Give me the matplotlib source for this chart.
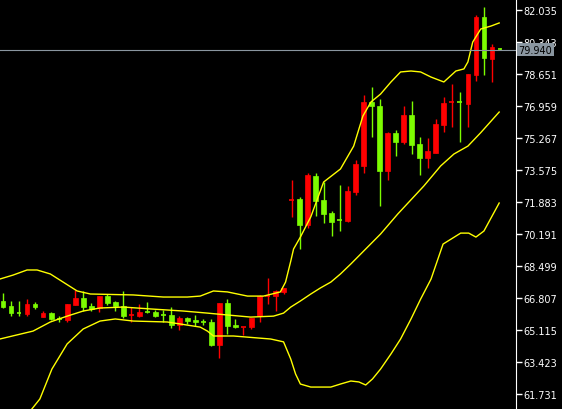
import matplotlib
matplotlib.use("Agg")
import matplotlib.pyplot as plt
from matplotlib.patches import Rectangle
from matplotlib.transforms import blended_transform_factory

# Candles (red = up, green = down, as in the terminal colour scheme)
opens = [66.65, 66.38, 66.02, 65.96, 66.49, 65.80, 66.01, 65.70, 65.64, 66.44,
         66.81, 66.38, 66.28, 66.91, 66.60, 66.38, 65.91, 65.86, 66.07, 66.07,
         65.91, 65.91, 65.38, 65.75, 65.64, 65.54, 65.54, 64.32, 66.54, 65.38,
         65.27, 65.27, 65.86, 66.91, 66.91, 67.13, 71.96, 72.04, 70.67, 73.26,
         71.99, 71.30, 70.94, 70.88, 72.41, 73.79, 77.17, 76.96, 73.52, 75.53,
         75.06, 76.48, 74.95, 74.21, 74.47, 75.96, 77.15, 77.19, 77.07, 78.60,
         81.67, 79.45, 79.97]
highs = [67.07, 66.65, 66.65, 66.75, 66.60, 66.12, 66.07, 65.86, 66.49, 67.23,
         67.18, 66.54, 66.91, 67.02, 66.65, 67.18, 66.33, 66.49, 66.60, 66.17,
         66.17, 66.33, 65.86, 65.80, 65.91, 65.70, 65.70, 66.54, 66.75, 65.70,
         65.28, 65.75, 66.97, 67.87, 67.23, 67.34, 73.05, 72.15, 73.42, 73.42,
         72.94, 71.41, 72.78, 72.73, 74.10, 77.54, 77.96, 77.33, 75.58, 75.69,
         76.96, 77.22, 75.32, 75.27, 76.27, 77.44, 78.12, 77.70, 78.65, 81.77,
         82.19, 80.24, 80.05]
lows = [66.28, 65.86, 65.86, 65.86, 66.23, 65.80, 65.64, 65.54, 65.54, 66.44,
        66.12, 66.12, 66.07, 66.44, 66.12, 65.75, 65.54, 65.80, 66.01, 65.80,
        65.54, 65.22, 65.12, 65.43, 65.33, 65.38, 64.27, 63.64, 64.90, 65.22,
        64.85, 65.17, 65.54, 66.49, 66.12, 67.02, 71.09, 69.40, 70.51, 71.14,
        70.77, 70.09, 70.35, 70.83, 72.25, 73.42, 75.32, 71.67, 73.05, 74.32,
        74.95, 74.42, 73.31, 73.68, 74.47, 75.58, 75.85, 75.06, 75.85, 78.28,
        78.60, 78.23, 79.91]
closes = [66.33, 66.01, 66.01, 66.49, 66.33, 66.01, 65.70, 65.68, 66.49, 66.81,
          66.33, 66.23, 66.91, 66.54, 66.38, 65.86, 65.93, 66.07, 66.05, 65.86,
          65.90, 65.38, 65.75, 65.59, 65.54, 65.53, 64.32, 66.54, 65.33, 65.27,
          65.28, 65.75, 66.91, 66.92, 67.18, 67.34, 71.99, 70.67, 73.31, 71.94,
          71.25, 70.83, 70.93, 72.47, 73.89, 77.17, 76.96, 73.52, 75.53, 75.06,
          76.48, 74.90, 74.21, 74.58, 76.01, 77.12, 77.17, 77.17, 78.65, 81.67,
          79.50, 80.08, 79.94]

# Bollinger bands (position in candle units, price)
upper_pos = [-0.4, 1.25, 3, 4.25, 5.9, 7.5, 9.25, 10.9, 16.25, 20, 23, 24.6, 26.25,
             28, 30.5, 32.5, 34.6, 35.25, 35.9, 36.25, 37.1, 38.4, 40, 42.1, 43.75,
             44.9, 45.9, 47.1, 48.4, 49.6, 50.9, 52.1, 53.4, 55, 56.5, 57.5, 58,
             58.6, 59.6, 60.9, 61.9]
upper_val = [67.81, 68.02, 68.29, 68.29, 68.08, 67.65, 67.18, 67.02, 66.97, 66.86,
             66.86, 66.91, 67.18, 67.13, 66.91, 66.91, 67.13, 67.65, 68.76, 69.40,
             70.03, 71.10, 72.94, 73.63, 74.84, 76.43, 77.17, 77.59, 78.23, 78.76,
             78.81, 78.76, 78.49, 78.23, 78.81, 78.92, 79.29, 80.34, 81.03, 81.19,
             81.35]
mid_pos = [-0.4, 3.75, 5.9, 8, 10, 12.1, 15, 18.4, 22.5, 25.5, 28, 30.9, 33.75, 35,
           35.9, 37.1, 38.4, 39.6, 40.9, 42.1, 43.4, 45.25, 47.1, 49.25, 52.5, 54.6,
           56.25, 58, 59.6, 61.9]
mid_val = [64.64, 65.06, 65.54, 65.85, 66.12, 66.28, 66.33, 66.23, 66.12, 66.01,
           65.91, 65.80, 65.85, 66.01, 66.33, 66.65, 67.02, 67.34, 67.65, 68.08,
           68.61, 69.40, 70.19, 71.25, 72.73, 73.79, 74.42, 74.84, 75.55, 76.64]
lower_pos = [2.1, 4.6, 6.1, 8, 10, 12.1, 14, 16.25, 20.5, 24.6, 25.5, 26.25, 28.75,
             33.4, 35, 35.9, 36.5, 37.1, 38.4, 40.9, 42.1, 43.4, 44.4, 45.25, 46.1,
             47.1, 48.4, 49.6, 50.9, 52.1, 53.4, 54.9, 57.1, 58.1, 59, 60, 61.9]
lower_val = [60.15, 61.47, 63.05, 64.38, 65.17, 65.59, 65.70, 65.59, 65.54, 65.27,
             65.06, 64.80, 64.80, 64.64, 64.49, 63.58, 62.79, 62.26, 62.10, 62.10,
             62.26, 62.42, 62.37, 62.21, 62.53, 63.05, 63.85, 64.64, 65.70, 66.75,
             67.81, 69.66, 70.24, 70.24, 70.03, 70.35, 71.83]

y_ticks = [82.035, 80.343, 78.651, 76.959, 75.267, 73.575, 71.883, 70.191,
           68.499, 66.807, 65.115, 63.423, 61.731]
last_price = 79.940

UP = "#ff0000"
DOWN = "#7cfc00"

fig = plt.figure(figsize=(5.62, 4.10), dpi=100, facecolor="black")
ax = fig.add_axes([0, 0, 516 / 562, 1], facecolor="black")

for i, (o, h, l, c) in enumerate(zip(opens, highs, lows, closes)):
    col = UP if c >= o else DOWN
    ax.vlines(i, l, h, color=col, linewidth=1)
    lo, hi = min(o, c), max(o, c)
    if hi - lo < 0.06:
        ax.hlines((o + c) / 2, i - 0.3, i + 0.3, color=col, linewidth=1.2)
    else:
        ax.add_patch(Rectangle((i - 0.3, lo), 0.6, hi - lo, facecolor=col,
                               edgecolor=col, linewidth=0.5))

for pos, val in [(upper_pos, upper_val), (mid_pos, mid_val), (lower_pos, lower_val)]:
    ax.plot(pos, val, color="#ffff00", linewidth=1)

ax.axhline(last_price, color="#8a96a0", linewidth=0.8)

ax.set_xlim(-0.375, 64)
ax.set_ylim(60.94, 82.617)
ax.set_xticks([])
ax.yaxis.tick_right()
ax.set_yticks(y_ticks)
ax.set_yticklabels([f"{t:.3f}" for t in y_ticks])
ax.tick_params(axis="y", colors="white", labelsize=7, length=4, width=1, pad=1)
for name, sp in ax.spines.items():
    sp.set_visible(name == "right")
ax.spines["right"].set_color("white")

trans = blended_transform_factory(ax.transAxes, ax.transData)
ax.text(1.005, last_price, f"{last_price:.3f}", transform=trans, color="black",
        fontsize=7, va="center", ha="left", clip_on=False,
        bbox=dict(boxstyle="square,pad=0.15", facecolor="#8a96a0", edgecolor="none"))

fig.savefig("out.png", dpi=100, facecolor="black")
